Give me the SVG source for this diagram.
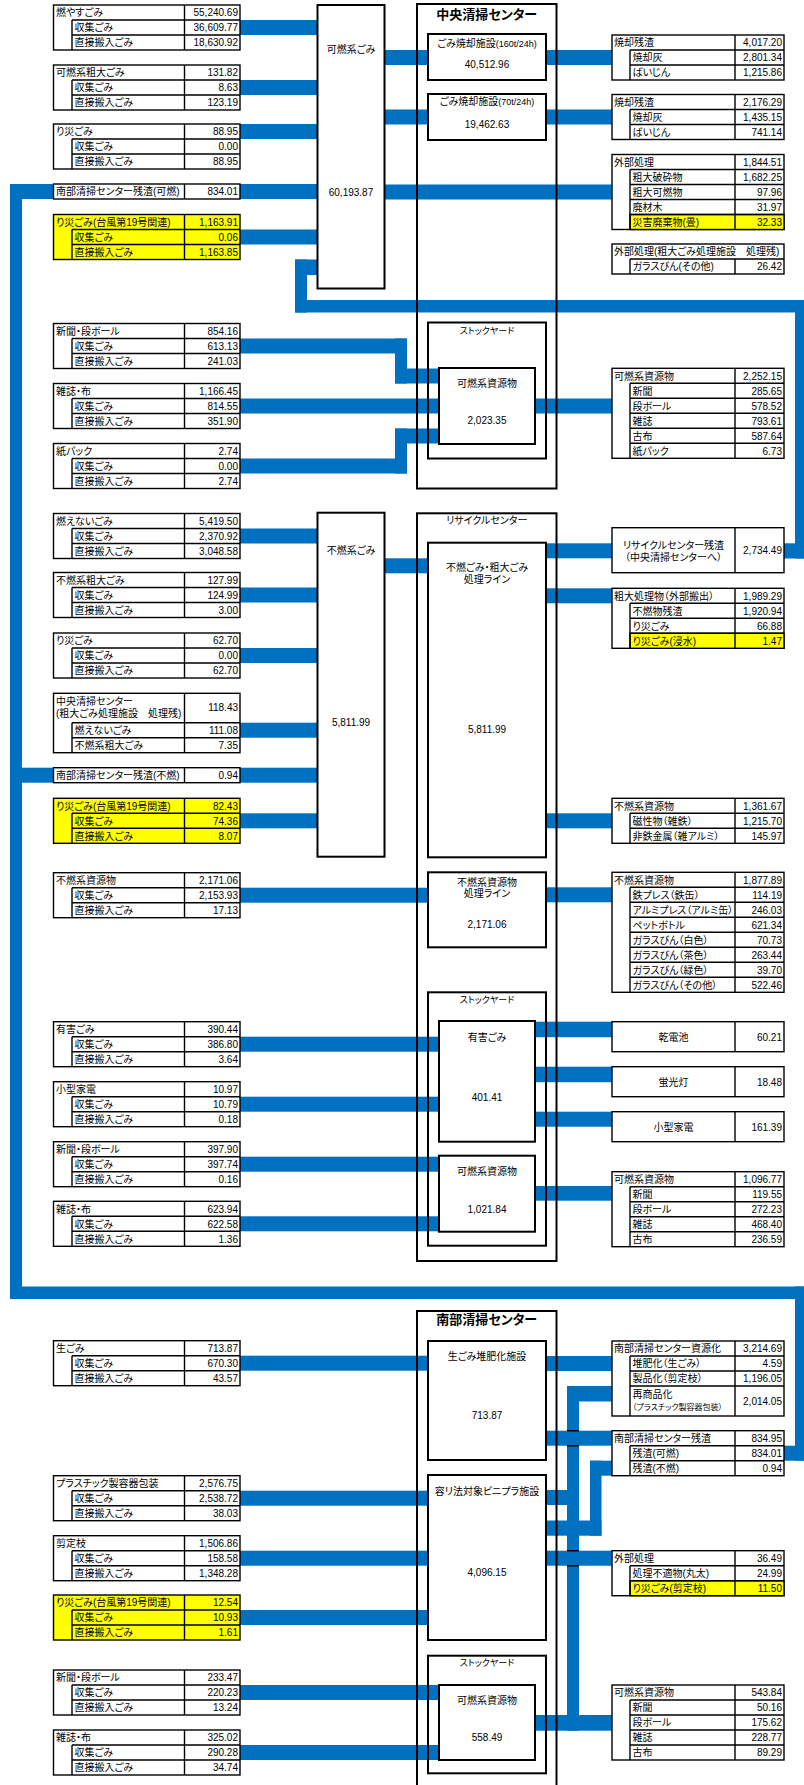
<svg xmlns="http://www.w3.org/2000/svg" xmlns:xlink="http://www.w3.org/1999/xlink" width="804" height="1785" viewBox="0 0 804 1785">
<style>
.tb{fill:#fff;stroke:#000;stroke-width:1.4}
.ty{fill:#ff0;stroke:#000;stroke-width:1.4}
.tl{fill:none;stroke:#000;stroke-width:1.4}
.bx{fill:#fff;stroke:#000;stroke-width:2}
.ob{fill:none;stroke:#000;stroke-width:2}
.c rect{fill:#0070C0}
text{font-family:"Liberation Sans","Noto Sans CJK JP",sans-serif;font-size:10px;fill:#000;font-feature-settings:"palt"}
.n{text-anchor:end}
.m{text-anchor:middle}
.h{font-size:13px;font-weight:bold}
.s{font-size:9px}
.xs{font-size:8px}
</style>
<defs>
<path id="L3" class="tl" d="M184.5 0V45M72 15V45M72 15H240M72 30H240"/>
<path id="R3" class="tl" d="M735 0V45M630 15V45M630 15H784M630 30H784"/>
<path id="R4" class="tl" d="M735 0V60M630 15V60M630 15H784M630 30H784M630 45H784"/>
<path id="R5" class="tl" d="M735 0V75M630 15V75M630 15H784M630 30H784M630 45H784M630 60H784"/>
<path id="R6" class="tl" d="M735 0V90M630 15V90M630 15H784M630 30H784M630 45H784M630 60H784M630 75H784"/>
<path id="R8" class="tl" d="M735 0V120M630 15V120M630 15H784M630 30H784M630 45H784M630 60H784M630 75H784M630 90H784M630 105H784"/>
</defs>
<rect width="804" height="1785" fill="#fff"/>

<g id="connectors" class="c">
<rect x="240" y="20" width="78" height="15"/>
<rect x="240" y="80" width="78" height="15"/>
<rect x="240" y="124" width="78" height="15"/>
<rect x="10" y="184" width="44" height="15"/>
<rect x="240" y="184" width="78" height="15"/>
<rect x="240" y="229.5" width="78" height="15"/>
<rect x="384" y="50" width="44" height="15"/>
<rect x="546" y="50" width="66" height="15"/>
<rect x="384" y="109.5" width="44" height="15"/>
<rect x="546" y="109.5" width="66" height="15"/>
<rect x="384" y="184.5" width="228" height="15"/>
<rect x="295" y="259.5" width="23" height="15.5"/>
<rect x="295" y="259.5" width="12" height="53"/>
<rect x="295" y="300" width="512" height="12.5"/>
<rect x="795" y="300" width="12" height="258.5"/>
<rect x="784" y="543.3" width="23" height="15.2"/>
<rect x="240" y="338.5" width="167" height="15"/>
<rect x="395" y="338.5" width="12" height="45"/>
<rect x="395" y="368.5" width="44" height="15"/>
<rect x="240" y="398.5" width="199" height="15"/>
<rect x="240" y="458.5" width="167" height="15"/>
<rect x="395" y="428.5" width="12" height="45"/>
<rect x="395" y="428.5" width="44" height="15"/>
<rect x="535" y="398.5" width="77" height="15"/>
<rect x="240" y="528.5" width="78" height="15"/>
<rect x="240" y="587.5" width="78" height="15"/>
<rect x="240" y="648" width="78" height="15"/>
<rect x="240" y="722.7" width="78" height="15"/>
<rect x="10" y="767.7" width="44" height="15"/>
<rect x="240" y="767.7" width="78" height="15"/>
<rect x="240" y="813.3" width="78" height="15"/>
<rect x="384" y="558.3" width="44" height="15"/>
<rect x="546" y="543.3" width="66" height="15"/>
<rect x="546" y="588.3" width="66" height="15"/>
<rect x="546" y="813.3" width="66" height="15"/>
<rect x="240" y="887.7" width="188" height="15"/>
<rect x="546" y="887.3" width="66" height="15"/>
<rect x="240" y="1036.7" width="199" height="15"/>
<rect x="240" y="1096.7" width="199" height="15"/>
<rect x="240" y="1156.7" width="199" height="15"/>
<rect x="240" y="1216.3" width="199" height="15"/>
<rect x="535" y="1021.7" width="77" height="15.5"/>
<rect x="535" y="1066.7" width="77" height="15.5"/>
<rect x="535" y="1111.7" width="77" height="15"/>
<rect x="535" y="1186" width="77" height="14.7"/>
<rect x="10" y="184" width="12" height="1115"/>
<rect x="10" y="1286.5" width="797" height="12.5"/>
<rect x="795" y="1286.5" width="12" height="174.2"/>
<rect x="784" y="1445.7" width="23" height="15"/>
<rect x="240" y="1355.7" width="188" height="15"/>
<rect x="546" y="1356" width="66" height="15"/>
<rect x="240" y="1490.7" width="188" height="15"/>
<rect x="240" y="1550.7" width="188" height="15"/>
<rect x="240" y="1610" width="188" height="15"/>
<rect x="240" y="1685" width="199" height="15"/>
<rect x="240" y="1745" width="199" height="15"/>
<rect x="567" y="1386" width="12" height="344.7"/>
<rect x="567" y="1386" width="45" height="15.5"/>
<rect x="546" y="1490" width="33" height="15"/>
<rect x="535" y="1715" width="77" height="15.7"/>
<rect x="590" y="1460.7" width="11.5" height="75"/>
<rect x="590" y="1460.7" width="22" height="15"/>
<rect x="546" y="1520.5" width="55.5" height="15.2"/>
<rect x="546" y="1430.7" width="66" height="15"/>
<rect x="546" y="1550.7" width="66" height="15"/>
<path d="M567 1430.7H579M567 1445.7H579M567 1550.7H579M567 1565.7H579" stroke="#000" stroke-width="1.4" fill="none"/>
</g>

<!-- Left input tables -->
<g id="lt1" transform="translate(0,5)"><rect class="tb" x="53.5" width="186.5" height="45"/><use href="#L3"/>
<text x="56" y="11.3">燃やすごみ</text><text class="n" x="238" y="11.3">55,240.69</text>
<text x="74.5" y="26.3">収集ごみ</text><text class="n" x="238" y="26.3">36,609.77</text>
<text x="74.5" y="41.3">直接搬入ごみ</text><text class="n" x="238" y="41.3">18,630.92</text></g>
<g id="lt2" transform="translate(0,65)"><rect class="tb" x="53.5" width="186.5" height="45"/><use href="#L3"/>
<text x="56" y="11.3">可燃系粗大ごみ</text><text class="n" x="238" y="11.3">131.82</text>
<text x="74.5" y="26.3">収集ごみ</text><text class="n" x="238" y="26.3">8.63</text>
<text x="74.5" y="41.3">直接搬入ごみ</text><text class="n" x="238" y="41.3">123.19</text></g>
<g id="lt3" transform="translate(0,124)"><rect class="tb" x="53.5" width="186.5" height="45"/><use href="#L3"/>
<text x="56" y="11.3">り災ごみ</text><text class="n" x="238" y="11.3">88.95</text>
<text x="74.5" y="26.3">収集ごみ</text><text class="n" x="238" y="26.3">0.00</text>
<text x="74.5" y="41.3">直接搬入ごみ</text><text class="n" x="238" y="41.3">88.95</text></g>
<g id="lt4" transform="translate(0,184)"><rect class="tb" x="53.5" width="186.5" height="15"/><path class="tl" d="M184.5 0V15"/>
<text x="56" y="11.3">南部清掃センター残渣(可燃)</text><text class="n" x="238" y="11.3">834.01</text></g>
<g id="lt5" transform="translate(0,214.5)"><rect class="ty" x="53.5" width="186.5" height="45"/><use href="#L3"/>
<text x="56" y="11.3">り災ごみ(台風第19号関連)</text><text class="n" x="238" y="11.3">1,163.91</text>
<text x="74.5" y="26.3">収集ごみ</text><text class="n" x="238" y="26.3">0.06</text>
<text x="74.5" y="41.3">直接搬入ごみ</text><text class="n" x="238" y="41.3">1,163.85</text></g>
<g id="lt6" transform="translate(0,323.5)"><rect class="tb" x="53.5" width="186.5" height="45"/><use href="#L3"/>
<text x="56" y="11.3">新聞・段ボール</text><text class="n" x="238" y="11.3">854.16</text>
<text x="74.5" y="26.3">収集ごみ</text><text class="n" x="238" y="26.3">613.13</text>
<text x="74.5" y="41.3">直接搬入ごみ</text><text class="n" x="238" y="41.3">241.03</text></g>
<g id="lt7" transform="translate(0,383.5)"><rect class="tb" x="53.5" width="186.5" height="45"/><use href="#L3"/>
<text x="56" y="11.3">雑誌・布</text><text class="n" x="238" y="11.3">1,166.45</text>
<text x="74.5" y="26.3">収集ごみ</text><text class="n" x="238" y="26.3">814.55</text>
<text x="74.5" y="41.3">直接搬入ごみ</text><text class="n" x="238" y="41.3">351.90</text></g>
<g id="lt8" transform="translate(0,443.5)"><rect class="tb" x="53.5" width="186.5" height="45"/><use href="#L3"/>
<text x="56" y="11.3">紙パック</text><text class="n" x="238" y="11.3">2.74</text>
<text x="74.5" y="26.3">収集ごみ</text><text class="n" x="238" y="26.3">0.00</text>
<text x="74.5" y="41.3">直接搬入ごみ</text><text class="n" x="238" y="41.3">2.74</text></g>
<g id="lt9" transform="translate(0,513.5)"><rect class="tb" x="53.5" width="186.5" height="45"/><use href="#L3"/>
<text x="56" y="11.3">燃えないごみ</text><text class="n" x="238" y="11.3">5,419.50</text>
<text x="74.5" y="26.3">収集ごみ</text><text class="n" x="238" y="26.3">2,370.92</text>
<text x="74.5" y="41.3">直接搬入ごみ</text><text class="n" x="238" y="41.3">3,048.58</text></g>
<g id="lt10" transform="translate(0,572.5)"><rect class="tb" x="53.5" width="186.5" height="45"/><use href="#L3"/>
<text x="56" y="11.3">不燃系粗大ごみ</text><text class="n" x="238" y="11.3">127.99</text>
<text x="74.5" y="26.3">収集ごみ</text><text class="n" x="238" y="26.3">124.99</text>
<text x="74.5" y="41.3">直接搬入ごみ</text><text class="n" x="238" y="41.3">3.00</text></g>
<g id="lt11" transform="translate(0,633)"><rect class="tb" x="53.5" width="186.5" height="45"/><use href="#L3"/>
<text x="56" y="11.3">り災ごみ</text><text class="n" x="238" y="11.3">62.70</text>
<text x="74.5" y="26.3">収集ごみ</text><text class="n" x="238" y="26.3">0.00</text>
<text x="74.5" y="41.3">直接搬入ごみ</text><text class="n" x="238" y="41.3">62.70</text></g>
<g id="lt12" transform="translate(0,693.3)"><rect class="tb" x="53.5" width="186.5" height="59.4"/><path class="tl" d="M184.5 0V59.4M72 29.4V59.4M72 29.4H240M72 44.4H240"/>
<text x="56" y="11.5">中央清掃センター</text><text x="56" y="24">(粗大ごみ処理施設　処理残)</text><text class="n" x="238" y="18">118.43</text>
<text x="74.5" y="40.7">燃えないごみ</text><text class="n" x="238" y="40.7">111.08</text>
<text x="74.5" y="55.7">不燃系粗大ごみ</text><text class="n" x="238" y="55.7">7.35</text></g>
<g id="lt13" transform="translate(0,767.7)"><rect class="tb" x="53.5" width="186.5" height="15"/><path class="tl" d="M184.5 0V15"/>
<text x="56" y="11.3">南部清掃センター残渣(不燃)</text><text class="n" x="238" y="11.3">0.94</text></g>
<g id="lt14" transform="translate(0,798.3)"><rect class="ty" x="53.5" width="186.5" height="45"/><use href="#L3"/>
<text x="56" y="11.3">り災ごみ(台風第19号関連)</text><text class="n" x="238" y="11.3">82.43</text>
<text x="74.5" y="26.3">収集ごみ</text><text class="n" x="238" y="26.3">74.36</text>
<text x="74.5" y="41.3">直接搬入ごみ</text><text class="n" x="238" y="41.3">8.07</text></g>
<g id="lt15" transform="translate(0,872.7)"><rect class="tb" x="53.5" width="186.5" height="45"/><use href="#L3"/>
<text x="56" y="11.3">不燃系資源物</text><text class="n" x="238" y="11.3">2,171.06</text>
<text x="74.5" y="26.3">収集ごみ</text><text class="n" x="238" y="26.3">2,153.93</text>
<text x="74.5" y="41.3">直接搬入ごみ</text><text class="n" x="238" y="41.3">17.13</text></g>
<g id="lt16" transform="translate(0,1021.7)"><rect class="tb" x="53.5" width="186.5" height="45"/><use href="#L3"/>
<text x="56" y="11.3">有害ごみ</text><text class="n" x="238" y="11.3">390.44</text>
<text x="74.5" y="26.3">収集ごみ</text><text class="n" x="238" y="26.3">386.80</text>
<text x="74.5" y="41.3">直接搬入ごみ</text><text class="n" x="238" y="41.3">3.64</text></g>
<g id="lt17" transform="translate(0,1081.7)"><rect class="tb" x="53.5" width="186.5" height="45"/><use href="#L3"/>
<text x="56" y="11.3">小型家電</text><text class="n" x="238" y="11.3">10.97</text>
<text x="74.5" y="26.3">収集ごみ</text><text class="n" x="238" y="26.3">10.79</text>
<text x="74.5" y="41.3">直接搬入ごみ</text><text class="n" x="238" y="41.3">0.18</text></g>
<g id="lt18" transform="translate(0,1141.7)"><rect class="tb" x="53.5" width="186.5" height="45"/><use href="#L3"/>
<text x="56" y="11.3">新聞・段ボール</text><text class="n" x="238" y="11.3">397.90</text>
<text x="74.5" y="26.3">収集ごみ</text><text class="n" x="238" y="26.3">397.74</text>
<text x="74.5" y="41.3">直接搬入ごみ</text><text class="n" x="238" y="41.3">0.16</text></g>
<g id="lt19" transform="translate(0,1201.3)"><rect class="tb" x="53.5" width="186.5" height="45"/><use href="#L3"/>
<text x="56" y="11.3">雑誌・布</text><text class="n" x="238" y="11.3">623.94</text>
<text x="74.5" y="26.3">収集ごみ</text><text class="n" x="238" y="26.3">622.58</text>
<text x="74.5" y="41.3">直接搬入ごみ</text><text class="n" x="238" y="41.3">1.36</text></g>
<g id="lt20" transform="translate(0,1340.7)"><rect class="tb" x="53.5" width="186.5" height="45"/><use href="#L3"/>
<text x="56" y="11.3">生ごみ</text><text class="n" x="238" y="11.3">713.87</text>
<text x="74.5" y="26.3">収集ごみ</text><text class="n" x="238" y="26.3">670.30</text>
<text x="74.5" y="41.3">直接搬入ごみ</text><text class="n" x="238" y="41.3">43.57</text></g>
<g id="lt21" transform="translate(0,1475.7)"><rect class="tb" x="53.5" width="186.5" height="45"/><use href="#L3"/>
<text x="56" y="11.3">プラスチック製容器包装</text><text class="n" x="238" y="11.3">2,576.75</text>
<text x="74.5" y="26.3">収集ごみ</text><text class="n" x="238" y="26.3">2,538.72</text>
<text x="74.5" y="41.3">直接搬入ごみ</text><text class="n" x="238" y="41.3">38.03</text></g>
<g id="lt22" transform="translate(0,1535.7)"><rect class="tb" x="53.5" width="186.5" height="45"/><use href="#L3"/>
<text x="56" y="11.3">剪定枝</text><text class="n" x="238" y="11.3">1,506.86</text>
<text x="74.5" y="26.3">収集ごみ</text><text class="n" x="238" y="26.3">158.58</text>
<text x="74.5" y="41.3">直接搬入ごみ</text><text class="n" x="238" y="41.3">1,348.28</text></g>
<g id="lt23" transform="translate(0,1595)"><rect class="ty" x="53.5" width="186.5" height="45"/><use href="#L3"/>
<text x="56" y="11.3">り災ごみ(台風第19号関連)</text><text class="n" x="238" y="11.3">12.54</text>
<text x="74.5" y="26.3">収集ごみ</text><text class="n" x="238" y="26.3">10.93</text>
<text x="74.5" y="41.3">直接搬入ごみ</text><text class="n" x="238" y="41.3">1.61</text></g>
<g id="lt24" transform="translate(0,1670)"><rect class="tb" x="53.5" width="186.5" height="45"/><use href="#L3"/>
<text x="56" y="11.3">新聞・段ボール</text><text class="n" x="238" y="11.3">233.47</text>
<text x="74.5" y="26.3">収集ごみ</text><text class="n" x="238" y="26.3">220.23</text>
<text x="74.5" y="41.3">直接搬入ごみ</text><text class="n" x="238" y="41.3">13.24</text></g>
<g id="lt25" transform="translate(0,1730)"><rect class="tb" x="53.5" width="186.5" height="45"/><use href="#L3"/>
<text x="56" y="11.3">雑誌・布</text><text class="n" x="238" y="11.3">325.02</text>
<text x="74.5" y="26.3">収集ごみ</text><text class="n" x="238" y="26.3">290.28</text>
<text x="74.5" y="41.3">直接搬入ごみ</text><text class="n" x="238" y="41.3">34.74</text></g>

<!-- Collection boxes -->
<g id="kanen-gomi"><rect class="bx" x="317.5" y="5" width="67" height="283.5"/>
<text class="m" x="351" y="52.5">可燃系ごみ</text><text class="m" x="351" y="195.5">60,193.87</text></g>
<g id="funen-gomi"><rect class="bx" x="317.5" y="512.7" width="67" height="344"/>
<text class="m" x="351" y="553.5">不燃系ごみ</text><text class="m" x="351" y="726">5,811.99</text></g>

<!-- 中央清掃センター -->
<g id="chuo-center"><rect class="ob" x="417" y="4" width="139.5" height="484.5"/>
<text class="m h" x="486.75" y="18.5">中央清掃センター</text></g>
<g id="incinerator-160"><rect class="bx" x="428" y="34" width="118" height="46"/>
<text class="m" x="487" y="46.5">ごみ焼却施設<tspan class="s">(160t/24h)</tspan></text><text class="m" x="487" y="67.5">40,512.96</text></g>
<g id="incinerator-70"><rect class="bx" x="428" y="94" width="118" height="46"/>
<text class="m" x="487" y="104.5">ごみ焼却施設<tspan class="s">(70t/24h)</tspan></text><text class="m" x="487" y="127.5">19,462.63</text></g>
<g id="stockyard-1"><rect class="ob" x="428" y="322.5" width="118" height="136"/>
<text class="m s" x="487" y="334">ストックヤード</text></g>
<g id="kanen-shigen-1"><rect class="bx" x="439" y="368" width="96" height="76"/>
<text class="m" x="487" y="387">可燃系資源物</text><text class="m" x="487" y="423.5">2,023.35</text></g>

<!-- リサイクルセンター -->
<g id="recycle-center"><rect class="ob" x="417" y="513.3" width="139.5" height="747.7"/>
<text class="m" x="486.75" y="523.8">リサイクルセンター</text></g>
<g id="sodai-line"><rect class="bx" x="428" y="542.7" width="118" height="314.6"/>
<text class="m" x="487" y="570.5">不燃ごみ・粗大ごみ</text><text class="m" x="487" y="582.5">処理ライン</text><text class="m" x="487" y="732.5">5,811.99</text></g>
<g id="funen-shigen-line"><rect class="bx" x="428" y="872.3" width="118" height="75"/>
<text class="m" x="487" y="885.5">不燃系資源物</text><text class="m" x="487" y="897">処理ライン</text><text class="m" x="487" y="928">2,171.06</text></g>
<g id="stockyard-2"><rect class="ob" x="428" y="992.3" width="118" height="253.4"/>
<text class="m s" x="487" y="1003">ストックヤード</text></g>
<g id="yugai-gomi"><rect class="bx" x="439" y="1021" width="96" height="120.7"/>
<text class="m" x="487" y="1040.5">有害ごみ</text><text class="m" x="487" y="1100.5">401.41</text></g>
<g id="kanen-shigen-2"><rect class="bx" x="439" y="1155.7" width="96" height="76"/>
<text class="m" x="487" y="1174.5">可燃系資源物</text><text class="m" x="487" y="1212.5">1,021.84</text></g>

<!-- 南部清掃センター -->
<g id="nanbu-center"><rect class="ob" x="417" y="1311" width="139.5" height="490"/>
<text class="m h" x="486.75" y="1323.5">南部清掃センター</text></g>
<g id="compost"><rect class="bx" x="428" y="1341" width="118" height="119"/>
<text class="m" x="487" y="1359.5">生ごみ堆肥化施設</text><text class="m" x="487" y="1418.5">713.87</text></g>
<g id="binipura"><rect class="bx" x="428" y="1475" width="118" height="165"/>
<text class="m" x="487" y="1494.5">容リ法対象ビニプラ施設</text><text class="m" x="487" y="1576">4,096.15</text></g>
<g id="stockyard-3"><rect class="ob" x="428" y="1655.7" width="118" height="117.6"/>
<text class="m s" x="487" y="1666">ストックヤード</text></g>
<g id="kanen-shigen-3"><rect class="bx" x="439" y="1685" width="96" height="75"/>
<text class="m" x="487" y="1703.5">可燃系資源物</text><text class="m" x="487" y="1741">558.49</text></g>

<!-- Right output tables -->
<g id="rt1" transform="translate(0,35)"><rect class="tb" x="612" width="172" height="45"/><use href="#R3"/>
<text x="614" y="11.3">焼却残渣</text><text class="n" x="782" y="11.3">4,017.20</text>
<text x="632.5" y="26.3">焼却灰</text><text class="n" x="782" y="26.3">2,801.34</text>
<text x="632.5" y="41.3">ばいじん</text><text class="n" x="782" y="41.3">1,215.86</text></g>
<g id="rt2" transform="translate(0,94.5)"><rect class="tb" x="612" width="172" height="45"/><use href="#R3"/>
<text x="614" y="11.3">焼却残渣</text><text class="n" x="782" y="11.3">2,176.29</text>
<text x="632.5" y="26.3">焼却灰</text><text class="n" x="782" y="26.3">1,435.15</text>
<text x="632.5" y="41.3">ばいじん</text><text class="n" x="782" y="41.3">741.14</text></g>
<g id="rt3" transform="translate(0,154.5)"><rect class="tb" x="612" width="172" height="75"/><rect class="ty" x="630" y="60" width="154" height="15"/><use href="#R5"/>
<text x="614" y="11.3">外部処理</text><text class="n" x="782" y="11.3">1,844.51</text>
<text x="632.5" y="26.3">粗大破砕物</text><text class="n" x="782" y="26.3">1,682.25</text>
<text x="632.5" y="41.3">粗大可燃物</text><text class="n" x="782" y="41.3">97.96</text>
<text x="632.5" y="56.3">廃材木</text><text class="n" x="782" y="56.3">31.97</text>
<text x="632.5" y="71.3">災害廃棄物(畳)</text><text class="n" x="782" y="71.3">32.33</text></g>
<g id="rt4" transform="translate(0,244)"><rect class="tb" x="612" width="172" height="30"/><path class="tl" d="M630 15H784M630 15V30M735 15V30"/>
<text x="614" y="11.3">外部処理(粗大ごみ処理施設　処理残)</text>
<text x="632.5" y="26.3">ガラスびん(その他)</text><text class="n" x="782" y="26.3">26.42</text></g>
<g id="rt5" transform="translate(0,368.3)"><rect class="tb" x="612" width="172" height="90"/><use href="#R6"/>
<text x="614" y="11.3">可燃系資源物</text><text class="n" x="782" y="11.3">2,252.15</text>
<text x="632.5" y="26.3">新聞</text><text class="n" x="782" y="26.3">285.65</text>
<text x="632.5" y="41.3">段ボール</text><text class="n" x="782" y="41.3">578.52</text>
<text x="632.5" y="56.3">雑誌</text><text class="n" x="782" y="56.3">793.61</text>
<text x="632.5" y="71.3">古布</text><text class="n" x="782" y="71.3">587.64</text>
<text x="632.5" y="86.3">紙パック</text><text class="n" x="782" y="86.3">6.73</text></g>

<g id="rr1"><rect class="tb" x="612" y="527.7" width="172" height="45"/><path class="tl" d="M735 527.7V572.7"/>
<text class="m" x="673.5" y="549">リサイクルセンター残渣</text><text class="m" x="673.5" y="561">（中央清掃センターへ）</text><text class="n" x="782" y="554">2,734.49</text></g>
<g id="rr2" transform="translate(0,588.3)"><rect class="tb" x="612" width="172" height="60"/><rect class="ty" x="630" y="45" width="154" height="15"/><use href="#R4"/>
<text x="614" y="11.3">粗大処理物（外部搬出）</text><text class="n" x="782" y="11.3">1,989.29</text>
<text x="632.5" y="26.3">不燃物残渣</text><text class="n" x="782" y="26.3">1,920.94</text>
<text x="632.5" y="41.3">り災ごみ</text><text class="n" x="782" y="41.3">66.88</text>
<text x="632.5" y="56.3">り災ごみ(浸水)</text><text class="n" x="782" y="56.3">1.47</text></g>
<g id="rr3" transform="translate(0,798.3)"><rect class="tb" x="612" width="172" height="45"/><use href="#R3"/>
<text x="614" y="11.3">不燃系資源物</text><text class="n" x="782" y="11.3">1,361.67</text>
<text x="632.5" y="26.3">磁性物（雑鉄）</text><text class="n" x="782" y="26.3">1,215.70</text>
<text x="632.5" y="41.3">非鉄金属（雑アルミ）</text><text class="n" x="782" y="41.3">145.97</text></g>
<g id="rr4" transform="translate(0,872.3)"><rect class="tb" x="612" width="172" height="120"/><use href="#R8"/>
<text x="614" y="11.3">不燃系資源物</text><text class="n" x="782" y="11.3">1,877.89</text>
<text x="632.5" y="26.3">鉄プレス（鉄缶）</text><text class="n" x="782" y="26.3">114.19</text>
<text x="632.5" y="41.3">アルミプレス（アルミ缶）</text><text class="n" x="782" y="41.3">246.03</text>
<text x="632.5" y="56.3">ペットボトル</text><text class="n" x="782" y="56.3">621.34</text>
<text x="632.5" y="71.3">ガラスびん（白色）</text><text class="n" x="782" y="71.3">70.73</text>
<text x="632.5" y="86.3">ガラスびん（茶色）</text><text class="n" x="782" y="86.3">263.44</text>
<text x="632.5" y="101.3">ガラスびん（緑色）</text><text class="n" x="782" y="101.3">39.70</text>
<text x="632.5" y="116.3">ガラスびん（その他）</text><text class="n" x="782" y="116.3">522.46</text></g>
<g id="rr5"><rect class="tb" x="612" y="1021.7" width="172" height="30"/><path class="tl" d="M735 1021.7V1051.7"/>
<text class="m" x="673.5" y="1040.5">乾電池</text><text class="n" x="782" y="1040.5">60.21</text></g>
<g id="rr6"><rect class="tb" x="612" y="1066.7" width="172" height="30"/><path class="tl" d="M735 1066.7V1096.7"/>
<text class="m" x="673.5" y="1085.5">蛍光灯</text><text class="n" x="782" y="1085.5">18.48</text></g>
<g id="rr7"><rect class="tb" x="612" y="1111.7" width="172" height="30"/><path class="tl" d="M735 1111.7V1141.7"/>
<text class="m" x="673.5" y="1130.5">小型家電</text><text class="n" x="782" y="1130.5">161.39</text></g>
<g id="rr8" transform="translate(0,1171.7)"><rect class="tb" x="612" width="172" height="75"/><use href="#R5"/>
<text x="614" y="11.3">可燃系資源物</text><text class="n" x="782" y="11.3">1,096.77</text>
<text x="632.5" y="26.3">新聞</text><text class="n" x="782" y="26.3">119.55</text>
<text x="632.5" y="41.3">段ボール</text><text class="n" x="782" y="41.3">272.23</text>
<text x="632.5" y="56.3">雑誌</text><text class="n" x="782" y="56.3">468.40</text>
<text x="632.5" y="71.3">古布</text><text class="n" x="782" y="71.3">236.59</text></g>

<g id="sr1" transform="translate(0,1341)"><rect class="tb" x="612" width="172" height="75"/><path class="tl" d="M735 0V75M630 15V75M630 15H784M630 30H784M630 45H784"/>
<text x="614" y="11.3">南部清掃センター資源化</text><text class="n" x="782" y="11.3">3,214.69</text>
<text x="632.5" y="26.3">堆肥化（生ごみ）</text><text class="n" x="782" y="26.3">4.59</text>
<text x="632.5" y="41.3">製品化（剪定枝）</text><text class="n" x="782" y="41.3">1,196.05</text>
<text x="632.5" y="56.5">再商品化</text><text class="xs" x="632.5" y="69">（プラスチック製容器包装）</text><text class="n" x="782" y="63.5">2,014.05</text></g>
<g id="sr2" transform="translate(0,1430.7)"><rect class="tb" x="612" width="172" height="45"/><use href="#R3"/>
<text x="614" y="11.3">南部清掃センター残渣</text><text class="n" x="782" y="11.3">834.95</text>
<text x="632.5" y="26.3">残渣(可燃)</text><text class="n" x="782" y="26.3">834.01</text>
<text x="632.5" y="41.3">残渣(不燃)</text><text class="n" x="782" y="41.3">0.94</text></g>
<g id="sr3" transform="translate(0,1550.7)"><rect class="tb" x="612" width="172" height="45"/><rect class="ty" x="630" y="30" width="154" height="15"/><use href="#R3"/>
<text x="614" y="11.3">外部処理</text><text class="n" x="782" y="11.3">36.49</text>
<text x="632.5" y="26.3">処理不適物(丸太)</text><text class="n" x="782" y="26.3">24.99</text>
<text x="632.5" y="41.3">り災ごみ(剪定枝)</text><text class="n" x="782" y="41.3">11.50</text></g>
<g id="sr4" transform="translate(0,1685)"><rect class="tb" x="612" width="172" height="75"/><use href="#R5"/>
<text x="614" y="11.3">可燃系資源物</text><text class="n" x="782" y="11.3">543.84</text>
<text x="632.5" y="26.3">新聞</text><text class="n" x="782" y="26.3">50.16</text>
<text x="632.5" y="41.3">段ボール</text><text class="n" x="782" y="41.3">175.62</text>
<text x="632.5" y="56.3">雑誌</text><text class="n" x="782" y="56.3">228.77</text>
<text x="632.5" y="71.3">古布</text><text class="n" x="782" y="71.3">89.29</text></g>
</svg>
